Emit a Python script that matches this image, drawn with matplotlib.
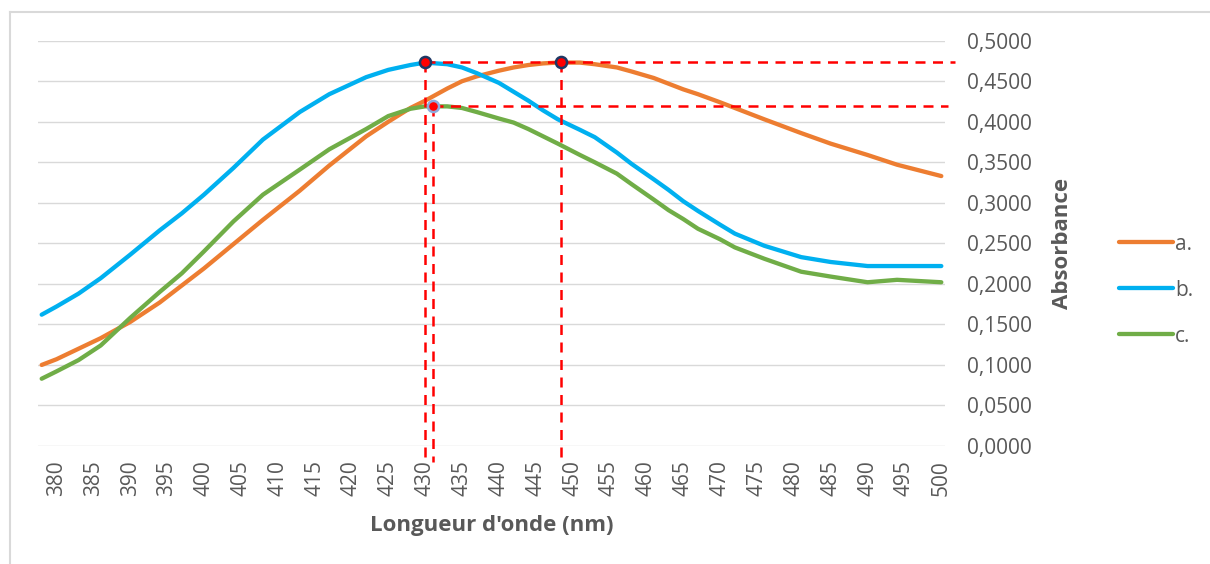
import matplotlib.pyplot as plt
from matplotlib.lines import Line2D
from matplotlib.ticker import FuncFormatter, MultipleLocator

# wavelengths (nm) where the curves were read
wl = [378, 380, 383, 386, 390, 394, 397, 400, 404, 408, 413, 417, 422, 425, 428,
      430, 433, 435, 437, 440, 442, 444, 446, 448, 451, 453, 456, 458, 461, 463,
      465, 467, 470, 472, 476, 481, 485, 490, 494, 500]

abs_a = [0.100, 0.107, 0.120, 0.133, 0.153, 0.177, 0.198, 0.219, 0.249, 0.279,
         0.315, 0.346, 0.382, 0.400, 0.417, 0.426, 0.441, 0.450, 0.456, 0.463,
         0.467, 0.470, 0.472, 0.473, 0.473, 0.471, 0.467, 0.462, 0.454, 0.447,
         0.440, 0.434, 0.424, 0.417, 0.403, 0.386, 0.373, 0.359, 0.347, 0.333]

abs_b = [0.162, 0.172, 0.188, 0.207, 0.236, 0.266, 0.287, 0.310, 0.343, 0.378,
         0.412, 0.434, 0.455, 0.464, 0.470, 0.473, 0.471, 0.467, 0.460, 0.448,
         0.437, 0.426, 0.414, 0.403, 0.390, 0.381, 0.362, 0.348, 0.329, 0.316,
         0.302, 0.290, 0.273, 0.262, 0.247, 0.233, 0.227, 0.222, 0.222, 0.222]

abs_c = [0.083, 0.092, 0.106, 0.124, 0.158, 0.190, 0.213, 0.240, 0.277, 0.310,
         0.341, 0.366, 0.391, 0.407, 0.416, 0.419, 0.419, 0.417, 0.412, 0.404,
         0.399, 0.391, 0.382, 0.373, 0.359, 0.350, 0.336, 0.323, 0.304, 0.291,
         0.280, 0.268, 0.255, 0.245, 0.231, 0.215, 0.209, 0.202, 0.205, 0.202]

labels = ["a.", "b.", "c."]
colors = ["#ED7D31", "#00B0F0", "#70AD47"]

# maxima marked on the chart
peak_x = [430, 448.4, 431]
peak_y = [0.4737, 0.4737, 0.4194]
peak_edge = ["#1F3864", "#1F3864", "#8FAADC"]

plt.rcParams['font.family'] = ['Open Sans', 'DejaVu Sans']
gray = "#595959"

fig = plt.figure(figsize=(12.1, 5.64), dpi=100)
ax = fig.add_axes([38 / 1210, 1 - 446 / 564, 907 / 1210, 405.3 / 564])

for y, lab, c in zip([abs_a, abs_b, abs_c], labels, colors):
    ax.plot(wl, y, color=c, lw=3.1, label=lab, solid_capstyle='round')

# red dashed guide lines
dash = dict(color="red", lw=1.8, ls=(0, (4, 3)), clip_on=False, zorder=4)
ax.plot([peak_x[0], 501.9], [peak_y[0], peak_y[0]], **dash)
ax.plot([peak_x[2], 500.9], [peak_y[2], peak_y[2]], **dash)
for px, py in zip(peak_x, peak_y):
    ax.plot([px, px], [py, -0.02], **dash)
for px, py, ec in zip(peak_x, peak_y, peak_edge):
    ax.plot(px, py, 'o', ms=8, mfc="red", mec=ec, mew=1.8, zorder=5, clip_on=False)

ax.set_xlim(377.5, 500.5)
ax.set_ylim(0, 0.5)
ax.xaxis.set_major_locator(MultipleLocator(5))
ax.yaxis.set_major_locator(MultipleLocator(0.05))
ax.yaxis.set_major_formatter(FuncFormatter(lambda v, p: f"{v:.4f}".replace(".", ",")))
ax.yaxis.tick_right()
ax.tick_params(axis='x', length=0, pad=10, labelsize=15, labelcolor=gray, labelrotation=90)
ax.tick_params(axis='y', length=0, pad=16, labelsize=15, labelcolor=gray)
for s in ax.spines.values():
    s.set_visible(False)
ax.grid(axis='y', color="#D9D9D9", lw=1)
ax.set_axisbelow(True)

ax.set_xlabel("Longueur d'onde (nm)", fontsize=16, fontweight='bold', color=gray)
ax.xaxis.set_label_coords(0.5, -0.17)
ax.set_ylabel("Absorbance", fontsize=16, fontweight='bold', color=gray)
ax.yaxis.set_label_position('right')
ax.yaxis.set_label_coords(1.118, 0.5)

fig.legend(loc='center left', bbox_to_anchor=(1100 / 1210, 1 - 290 / 564), frameon=False,
           fontsize=15, labelcolor=gray, handlelength=2.6, handletextpad=0.1,
           labelspacing=1.2)

# chart border (light gray frame)
fig.add_artist(Line2D([10 / 1210, 10 / 1210], [0, 1 - 12 / 564], color="#D9D9D9", lw=1.5))
fig.add_artist(Line2D([10 / 1210, 1], [1 - 12 / 564, 1 - 12 / 564], color="#D9D9D9", lw=1.5))

fig.savefig("out.png", dpi=100)
